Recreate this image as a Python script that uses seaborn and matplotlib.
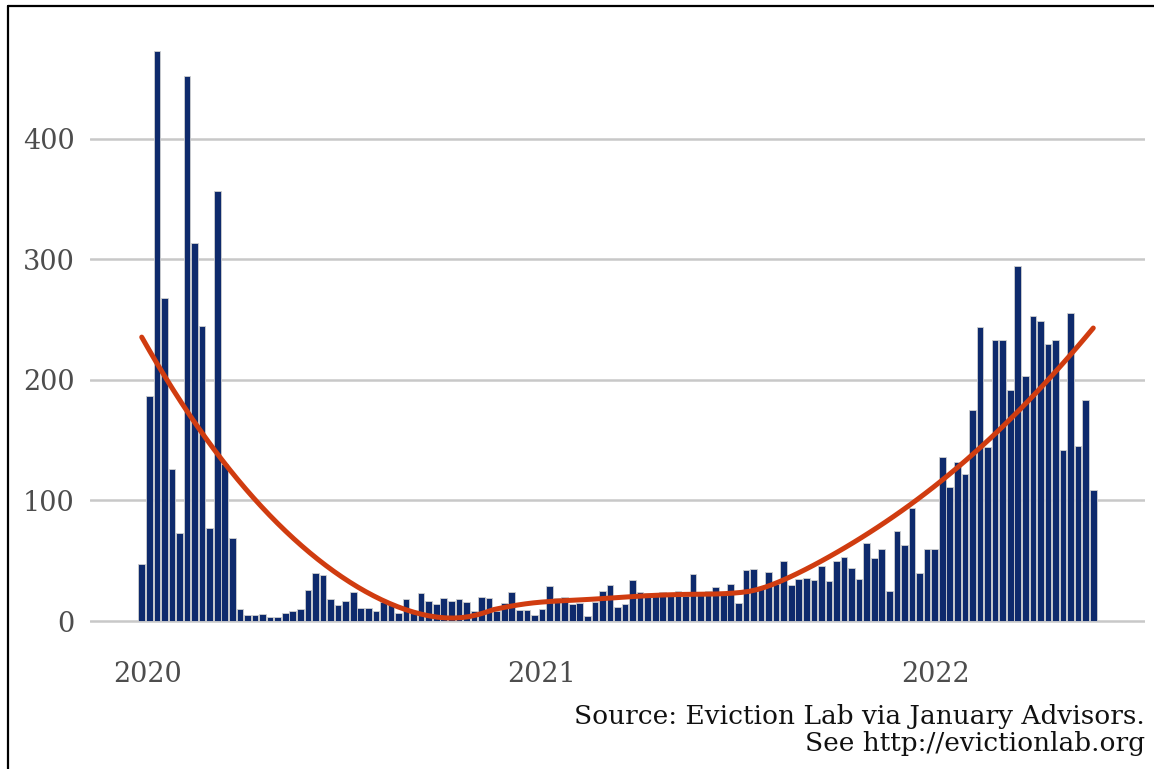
import numpy as np
import pandas as pd
import matplotlib
matplotlib.use("Agg")
import matplotlib.pyplot as plt
import matplotlib.dates as mdates
from matplotlib.lines import Line2D
import seaborn as sns

# ---------------- data ----------------
start_date = "2019-12-27"
filings = [
    47, 187, 473, 268, 126, 73, 452, 314, 245, 77, 357, 130, 69,
    10, 5, 5, 6, 3, 3, 7, 8, 10, 26, 40, 38, 18, 13, 17, 24, 11, 11, 8,
    16, 13, 7, 18, 8, 23, 17, 14, 19, 17, 18, 16, 8, 20, 19, 8, 15, 24, 9, 9, 5, 10, 29,
    19, 20, 14, 15, 4, 16, 25, 30, 12, 14, 34, 24, 23, 22, 24, 22, 25, 21, 39, 22, 25, 28, 24, 31,
    15, 42, 43, 28, 41, 31, 50, 30, 35, 36, 34, 46, 33, 50, 53, 44, 35, 65, 52, 60, 25, 75, 63, 94, 40, 60, 60,
    136, 111, 132, 122, 175, 244, 144, 233, 233, 192, 295, 203, 253, 249, 230, 233, 142, 256, 145, 183, 109,
]
year_ticks = ["2020-01-01", "2021-01-01", "2022-01-01"]
year_labels = ["2020", "2021", "2022"]
y_ticks = [0, 100, 200, 300, 400]
caption = "Source: Eviction Lab via January Advisors.\nSee http://evictionlab.org"

dates = pd.date_range(start_date, periods=len(filings), freq="7D")
xnum = mdates.date2num(dates)
yvals = np.asarray(filings, dtype=float)
df = pd.DataFrame({"x": xnum, "n": yvals})


def loess(x, y, xe, span=0.75):
    n = len(x)
    q = int(np.floor(n * span))
    out = []
    for x0 in xe:
        d = np.abs(x - x0)
        h = np.sort(d)[q - 1]
        w = np.clip(1 - (d / h) ** 3, 0, None) ** 3
        u = (x - x0) / h
        X = np.vstack([np.ones(n), u, u ** 2]).T
        sw = np.sqrt(w)
        beta = np.linalg.lstsq(X * sw[:, None], y * sw, rcond=None)[0]
        out.append(beta[0])
    return np.array(out)


xe = np.linspace(xnum.min(), xnum.max(), 120)
trend = pd.DataFrame({"x": xe, "fit": loess(xnum, yvals, xe)})

# ---------------- style ----------------
sns.set_theme(style="white")
plt.rcParams["font.family"] = ["DejaVu Serif"]

W, H = 1154, 769
fig = plt.figure(figsize=(W / 100, H / 100), dpi=100)
ax = fig.add_axes([90 / W, 1 - 649.5 / H, (1145 - 90) / W, (649.5 - 22.5) / H])

sns.barplot(data=df, x="x", y="n", native_scale=True, width=0.88, color="#0e2a6c",
            edgecolor="#d0d0d0", linewidth=0.6, saturation=1, errorbar=None, ax=ax)
sns.lineplot(data=trend, x="x", y="fit", color="#d03c10", lw=3.6, ax=ax)

span = xnum.max() - xnum.min() + 7
ax.set_xlim(xnum.min() - 3.5 - 0.05 * span, xnum.max() + 3.5 + 0.05 * span)
ax.set_ylim(-0.05 * max(filings), 1.05 * max(filings))

ax.set_yticks(y_ticks)
ax.set_yticklabels([str(v) for v in y_ticks])
ax.set_xticks(mdates.date2num(pd.to_datetime(year_ticks)))
ax.set_xticklabels(year_labels)
ax.yaxis.grid(True, color="#c8c8c8", lw=1.8)
ax.xaxis.grid(False)
ax.set_axisbelow(True)
for s in ax.spines.values():
    s.set_visible(False)
ax.tick_params(axis="both", length=0, labelsize=19.5, labelcolor="#4d4d4d")
ax.tick_params(axis="y", pad=11)
ax.tick_params(axis="x", pad=8)
ax.set_xlabel("")
ax.set_ylabel("")

fig.text(1145 / W, 1 - 704 / H, caption, ha="right", va="top", fontsize=19,
         color="#111111", linespacing=1.1)

# frame (top & left edge of the surrounding box)
fig.add_artist(Line2D([8 / W, 8 / W], [0, 1 - 6 / H], transform=fig.transFigure, color="black", lw=1.6))
fig.add_artist(Line2D([8 / W, 1], [1 - 6 / H, 1 - 6 / H], transform=fig.transFigure, color="black", lw=1.6))

fig.savefig("out.png", dpi=100)
